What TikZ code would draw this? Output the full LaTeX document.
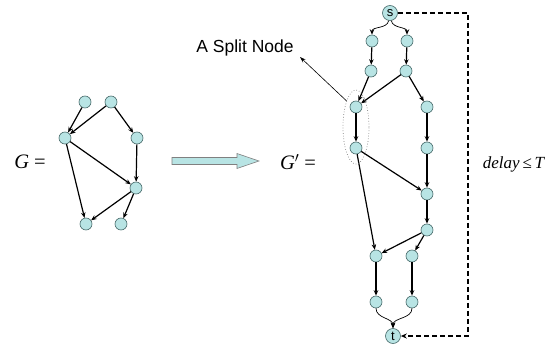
\documentclass[tikz,border=0pt]{standalone}
\usepackage{fontspec}
\setmainfont{Liberation Serif}
\setsansfont{Liberation Sans}
\usetikzlibrary{arrows.meta,shapes.geometric}
\definecolor{nodefill}{RGB}{184,228,228}
\definecolor{nodeline}{RGB}{70,105,105}
\begin{document}
\begin{tikzpicture}[x=1pt,y=-1pt,
  vtx/.style={circle,draw=nodeline,fill=nodefill,line width=0.6pt,minimum size=12pt,inner sep=0pt},
  term/.style={circle,draw=nodeline,fill=nodefill,line width=0.6pt,minimum size=15pt,inner sep=0pt,font=\sffamily\fontsize{13}{13}\selectfont},
  edge/.style={line width=1.2pt,-{Stealth[length=5.5pt,width=4.5pt]}},
  thinedge/.style={line width=0.7pt,-{Stealth[length=5.5pt,width=4.5pt]}}]
\useasboundingbox (0,0) rectangle (550,348);
% G
\node[font=\fontsize{20.5}{20.5}\selectfont] (Glab) at (30,162) {\textit{G} =};
\node[vtx] (a1) at (85,102) {};
\node[vtx] (a2) at (111,102) {};
\node[vtx] (b1) at (65,138) {};
\node[vtx] (b2) at (137,138) {};
\node[vtx] (c) at (136,188) {};
\node[vtx] (d1) at (86,224) {};
\node[vtx] (d2) at (121,224) {};
\draw[edge] (a1) -- (b1);
\draw[edge] (a2) -- (b1);
\draw[edge] (a2) -- (b2);
\draw[edge] (b1) -- (c);
\draw[edge] (b2) -- (c);
\draw[edge] (b1) -- (d1);
\draw[edge] (c) -- (d1);
\draw[edge] (c) -- (d2);
% big arrow
\draw[draw=gray,fill=nodefill,line width=0.6pt] (172,157.5) -- (237,157.5) -- (237,153.5) -- (259,161) -- (237,168.5) -- (237,164.5) -- (172,164.5) -- cycle;
% G'
\node[font=\fontsize{20.5}{20.5}\selectfont] (Gplab) at (298,162) {\textit{G}$'$ =};
\node[term] (s) at (390,13) {s};
\node[vtx] (p1) at (372,41) {};
\node[vtx] (q1) at (407,41) {};
\node[vtx] (p2) at (371,71) {};
\node[vtx] (q2) at (406,71) {};
\node[vtx] (p3) at (356,107) {};
\node[vtx] (q3) at (427,107) {};
\node[vtx] (p4) at (356,148) {};
\node[vtx] (q4) at (427,148) {};
\node[vtx] (m5) at (427,194) {};
\node[vtx] (m6) at (427,230) {};
\node[vtx] (p7) at (376,256) {};
\node[vtx] (q7) at (412,256) {};
\node[vtx] (p8) at (376,302) {};
\node[vtx] (q8) at (412,302) {};
\node[term] (t) at (393,336) {t};
\draw[thinedge] (s) to[out=-100,in=90] (p1);
\draw[thinedge] (s) to[out=-80,in=90] (q1);
\draw[edge] (p1) -- (p2);
\draw[edge] (q1) -- (q2);
\draw[edge] (p2) -- (p3);
\draw[edge] (q2) -- (p3);
\draw[edge] (q2) -- (q3);
\draw[edge] (p3) -- (p4);
\draw[edge] (q3) -- (q4);
\draw[edge] (p4) -- (m5);
\draw[edge] (p4) -- (p7);
\draw[edge] (q4) -- (m5);
\draw[edge] (m5) -- (m6);
\draw[edge] (m6) -- (p7);
\draw[edge] (m6) -- (q7);
\draw[edge] (p7) -- (p8);
\draw[edge] (q7) -- (q8);
\draw[thinedge] (p8) to[out=-90,in=90] (t);
\draw[thinedge] (q8) to[out=-90,in=90] (t);
% split node
\node[ellipse,draw=gray,dotted,line width=0.7pt,minimum width=26pt,minimum height=74pt,inner sep=0pt] (split) at (356,127) {};
\node[font=\sffamily\fontsize{17.5}{17.5}\selectfont] (lab) at (245,48) {A Split Node};
\coordinate (tip) at (300,57);
\draw[line width=0.6pt,-{Stealth[length=6pt,width=4pt]}] (split.110) -- (tip);
% delay loop
\coordinate (c1) at (468,13);
\coordinate (c2) at (468,336);
\draw[dash pattern=on 5pt off 3pt,line width=1.1pt,-{Stealth[length=6pt,width=5pt]}] (s.east) -- (c1) -- (c2) -- (t.east);
\node[font=\fontsize{17}{17}\selectfont] (delay) at (514,164) {\textit{delay}\,≤\,\textit{T}};
\end{tikzpicture}
\end{document}
